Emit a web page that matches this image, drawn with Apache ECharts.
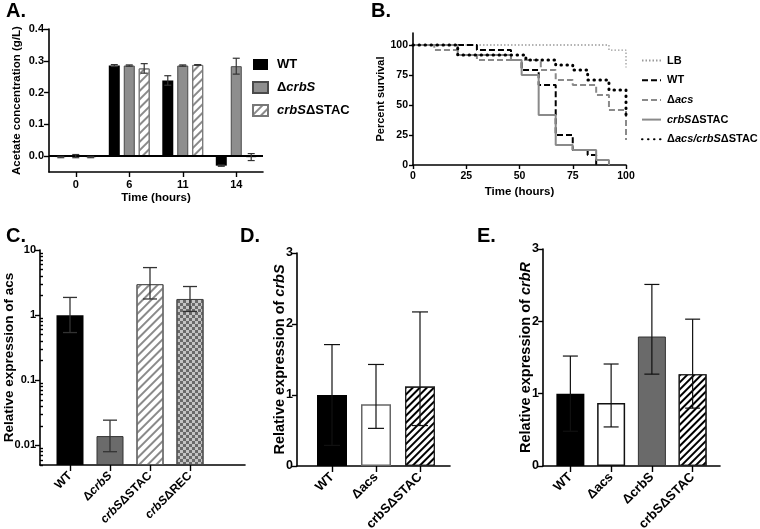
<!DOCTYPE html>
<html><head><meta charset="utf-8">
<script src="https://cdn.jsdelivr.net/npm/echarts@6/dist/echarts.min.js"></script>
<style>html,body{margin:0;padding:0;background:#fff}#c{width:760px;height:529px}</style>
</head><body><div id="c"></div>
<script>
// ---------- DATA ----------
// Panel A: acetate concentration (g/L)
const timeCats = ['0', '6', '11', '14'];
const acWT = [-0.003, 0.285, 0.238, -0.030];
const acWTerr = [0.002, 0.003, 0.015, 0.002];
const acCrbS = [0.000, 0.285, 0.285, 0.283];
const acCrbSerr = [0.005, 0.002, 0.002, 0.025];
const acStac = [-0.003, 0.276, 0.287, -0.003];
const acStacErr = [0.002, 0.015, 0.001, 0.011];
const aTicks = [0, 0.1, 0.2, 0.3, 0.4];

// Panel B: percent survival (Kaplan-Meier steps)
const lbTime = [0, 92, 100];
const lbSurv = [100, 95.8, 81.3];
const wtTime = [0, 30, 46, 51, 59, 67, 75, 82, 86];
const wtSurv = [100, 95.8, 87.5, 79.2, 66.7, 25, 12.5, 8.3, 0];
const acsTime = [0, 10, 21, 30, 60, 67, 75, 86, 92, 100];
const acsSurv = [100, 95.8, 91.7, 87.5, 79.2, 70.8, 66.7, 58.3, 45.8, 20.8];
const stacTime = [0, 21, 46, 51, 59, 67, 75, 86, 92];
const stacSurv = [100, 91.7, 87.5, 75, 41.7, 16.7, 12.5, 4.2, 0];
const dblTime = [0, 21, 53, 67, 75, 82, 92, 100];
const dblSurv = [100, 91.7, 87.5, 83.3, 79.2, 70.8, 62.5, 41.7];
const bTicks = [0, 25, 50, 75, 100];

// Panel C: relative expression of acs (log scale)
const cCats = ['WT', 'ΔcrbS', 'crbSΔSTAC', 'crbSΔREC'];
const cVals = [1.0, 0.0139, 2.99, 1.77];
const cLow = [0.54, 0.008, 1.77, 1.14];
const cHigh = [1.87, 0.0244, 5.37, 2.75];
const cTicks = [0.01, 0.1, 1, 10];
const cMinor = [0.005, 0.006, 0.007, 0.008, 0.009, 0.02, 0.03, 0.04, 0.05, 0.06, 0.07, 0.08, 0.09,
  0.2, 0.3, 0.4, 0.5, 0.6, 0.7, 0.8, 0.9, 2, 3, 4, 5, 6, 7, 8, 9];

// Panel D: relative expression of crbS
const dCats = ['WT', 'Δacs', 'crbSΔSTAC'];
const dVals = [1.0, 0.87, 1.12];
const dLow = [0.29, 0.53, 0.57];
const dHigh = [1.71, 1.43, 2.17];

// Panel E: relative expression of crbR
const eCats = ['WT', 'Δacs', 'ΔcrbS', 'crbSΔSTAC'];
const eVals = [1.0, 0.87, 1.79, 1.27];
const eLow = [0.48, 0.54, 1.27, 0.80];
const eHigh = [1.52, 1.41, 2.51, 2.03];

// ---------- STYLES ----------
const FF = 'Liberation Sans';
const T = (size, extra) => Object.assign({fontFamily: FF, fontWeight: 'bold', fontSize: size, color: '#000'}, extra || {});
const richI = size => ({i: T(size, {fontStyle: 'italic'})});
const AX = {show: true, onZero: false, lineStyle: {color: '#000', width: 1.6}};
const TK = len => ({show: true, length: len, lineStyle: {color: '#000', width: 1.4}});

const hatchGrey = {symbol: 'rect', symbolSize: 1, dashArrayX: [1, 0], dashArrayY: [1.4, 3.2], rotation: -Math.PI / 4, color: '#8a8a8a'};
const hatchBlack = {symbol: 'rect', symbolSize: 1, dashArrayX: [1, 0], dashArrayY: [2, 2.6], rotation: -Math.PI / 4, color: '#000'};
const checker = {symbol: 'rect', symbolSize: 1, dashArrayX: [[3, 3], [0, 3, 3, 0]], dashArrayY: [3, 0], rotation: 0, color: '#6a6a6a'};

const labelMap = {
  'A_WT': 'WT', 'A_crbS': 'Δ{i|crbS}', 'A_STAC': '{i|crbS}ΔSTAC',
  'B_LB': 'LB', 'B_WT': 'WT', 'B_acs': 'Δ{i|acs}', 'B_STAC': '{i|crbS}ΔSTAC', 'B_dbl': 'Δ{i|acs/crbS}ΔSTAC'
};
const catItal = {'WT': 'WT', 'ΔcrbS': 'Δ{i|crbS}', 'crbSΔSTAC': '{i|crbS}ΔSTAC', 'crbSΔREC': '{i|crbS}ΔREC'};

function errBars(offset, cap, color, width) {
  return function (params, api) {
    const x = api.value(0);
    const lo = api.coord([x, api.value(1)]);
    const hi = api.coord([x, api.value(2)]);
    const cx = lo[0] + offset;
    const st = {stroke: color, lineWidth: width};
    return {type: 'group', children: [
      {type: 'line', shape: {x1: cx, y1: hi[1], x2: cx, y2: lo[1]}, style: st},
      {type: 'line', shape: {x1: cx - cap, y1: hi[1], x2: cx + cap, y2: hi[1]}, style: st},
      {type: 'line', shape: {x1: cx - cap, y1: lo[1], x2: cx + cap, y2: lo[1]}, style: st}
    ]};
  };
}
const pairs = (t, s) => t.map((v, i) => [v, s[i]]);
const symErr = (v, e) => v.map((x, i) => [i, x - e[i], x + e[i]]);
const asymErr = (lo, hi) => lo.map((x, i) => [i, x, hi[i]]);

const aBarW = 11, aGap = 0.36;
const aStep = aBarW * (1 + aGap);
const G = (l, t, w, h) => ({left: l, top: t, width: w, height: h, containLabel: false, outerBoundsMode: 'none'});

const option = {
  animation: false,
  backgroundColor: '#fff',
  title: [
    {text: 'A.', left: 6, top: 1, padding: 0, textStyle: T(20)},
    {text: 'B.', left: 371, top: 1, padding: 0, textStyle: T(20)},
    {text: 'C.', left: 6, top: 226, padding: 0, textStyle: T(20)},
    {text: 'D.', left: 240, top: 226, padding: 0, textStyle: T(20)},
    {text: 'E.', left: 477, top: 226, padding: 0, textStyle: T(20)}
  ],
  legend: [
    {orient: 'vertical', left: 252, top: 58, itemWidth: 15, itemHeight: 11, itemGap: 10, icon: 'rect', padding: 0,
      data: ['A_WT', 'A_crbS', 'A_STAC'], formatter: n => labelMap[n], selectedMode: false,
      textStyle: Object.assign(T(13), {padding: [0, 0, 0, 4], rich: richI(13)})},
    {orient: 'vertical', left: 641, top: 55, itemWidth: 19, itemHeight: 10, itemGap: 8.7, padding: 0,
      data: ['B_LB', 'B_WT', 'B_acs', 'B_STAC', 'B_dbl'], formatter: n => labelMap[n], selectedMode: false,
      itemStyle: {opacity: 0},
      textStyle: Object.assign(T(11), {padding: [0, 0, 0, 1], rich: richI(11)})}
  ],
  grid: [
    G(49, 29, 214, 143),   // A
    G(413, 33, 213, 132),  // B
    G(40, 250, 205, 215),  // C frame
    G(50, 250, 160, 215),  // C bars
    G(297, 253, 153, 213), // D frame
    G(310, 253, 132, 213), // D bars
    G(543, 249, 177, 217), // E frame
    G(550, 249, 163, 217)  // E bars
  ],
  xAxis: [
    {gridIndex: 0, type: 'category', data: timeCats, axisLine: AX, axisTick: Object.assign(TK(5), {alignWithLabel: true}),
      axisLabel: Object.assign(T(11), {margin: 7}), name: 'Time (hours)', nameLocation: 'middle', nameGap: 20,
      nameMoveOverlap: false, nameTextStyle: T(11.5)},
    {gridIndex: 1, type: 'value', min: 0, max: 100, interval: 25, axisLine: AX, axisTick: TK(4), splitLine: {show: false},
      axisLabel: Object.assign(T(10.5), {margin: 6}), name: 'Time (hours)', nameLocation: 'middle', nameGap: 21,
      nameMoveOverlap: false, nameTextStyle: T(11.5)},
    {gridIndex: 2, type: 'value', min: 0, max: 1, axisLine: AX, axisTick: {show: false}, axisLabel: {show: false}, splitLine: {show: false}},
    {gridIndex: 3, type: 'category', data: cCats, axisLine: {show: false}, axisTick: Object.assign(TK(6), {alignWithLabel: true}),
      axisLabel: Object.assign(T(12), {rotate: 45, margin: 9, formatter: v => catItal[v], rich: richI(12)})},
    {gridIndex: 4, type: 'value', min: 0, max: 1, axisLine: AX, axisTick: {show: false}, axisLabel: {show: false}, splitLine: {show: false}},
    {gridIndex: 5, type: 'category', data: dCats, axisLine: {show: false}, axisTick: Object.assign(TK(6), {alignWithLabel: true}),
      axisLabel: Object.assign(T(13), {rotate: 45, margin: 9})},
    {gridIndex: 6, type: 'value', min: 0, max: 1, axisLine: AX, axisTick: {show: false}, axisLabel: {show: false}, splitLine: {show: false}},
    {gridIndex: 7, type: 'category', data: eCats, axisLine: {show: false}, axisTick: Object.assign(TK(6), {alignWithLabel: true}),
      axisLabel: Object.assign(T(13), {rotate: 45, margin: 9})}
  ],
  yAxis: [
    {gridIndex: 0, type: 'value', min: -0.05, max: 0.4, axisLine: AX,
      axisTick: Object.assign(TK(5), {customValues: aTicks}), splitLine: {show: false},
      axisLabel: Object.assign(T(11), {customValues: aTicks, formatter: v => v.toFixed(1), margin: 5}),
      name: 'Acetate concentration (g/L)', nameLocation: 'middle', nameGap: 26, nameMoveOverlap: false, nameTextStyle: T(11.5)},
    {gridIndex: 1, type: 'value', min: 0, max: 110, axisLine: AX,
      axisTick: Object.assign(TK(4), {customValues: bTicks}), splitLine: {show: false},
      axisLabel: Object.assign(T(10.5), {customValues: bTicks, margin: 5}),
      name: 'Percent survival', nameLocation: 'middle', nameGap: 27, nameMoveOverlap: false, nameTextStyle: T(11)},
    {gridIndex: 2, type: 'log', min: 0.005, max: 10, axisLine: AX,
      axisTick: Object.assign(TK(5), {customValues: cTicks}), splitLine: {show: false},
      axisLabel: Object.assign(T(11), {customValues: cTicks, formatter: v => String(v), margin: 4}),
      name: 'Relative expression of acs', nameLocation: 'middle', nameGap: 24, nameMoveOverlap: false, nameTextStyle: T(13.5)},
    {gridIndex: 2, type: 'log', min: 0.005, max: 10, axisLine: {show: false},
      axisTick: Object.assign(TK(3), {customValues: cMinor}), axisLabel: {show: false}, splitLine: {show: false}},
    {gridIndex: 3, type: 'log', min: 0.005, max: 10, startValue: 0.005, show: false},
    {gridIndex: 4, type: 'value', min: 0, max: 3, interval: 1, axisLine: AX, axisTick: TK(5), splitLine: {show: false},
      axisLabel: Object.assign(T(12.5), {margin: 4}),
      name: 'Relative expression of {i|crbS}', nameLocation: 'middle', nameGap: 10, nameMoveOverlap: false,
      nameTextStyle: Object.assign(T(14.5), {rich: richI(14.5)})},
    {gridIndex: 5, type: 'value', min: 0, max: 3, show: false},
    {gridIndex: 6, type: 'value', min: 0, max: 3, interval: 1, axisLine: AX, axisTick: TK(5), splitLine: {show: false},
      axisLabel: Object.assign(T(12.5), {margin: 4}),
      name: 'Relative expression of {i|crbR}', nameLocation: 'middle', nameGap: 10, nameMoveOverlap: false,
      nameTextStyle: Object.assign(T(14.5), {rich: richI(14.5)})},
    {gridIndex: 7, type: 'value', min: 0, max: 3, show: false}
  ],
  series: [
    // ----- A -----
    {name: 'A_WT', type: 'bar', xAxisIndex: 0, yAxisIndex: 0, data: acWT, barWidth: aBarW, barGap: (aGap * 100) + '%',
      itemStyle: {color: '#000'},
      markLine: {silent: true, symbol: 'none', label: {show: false}, lineStyle: {color: '#000', width: 1.8, type: 'solid'}, data: [{yAxis: 0}]}},
    {name: 'A_crbS', type: 'bar', xAxisIndex: 0, yAxisIndex: 0, data: acCrbS, barWidth: aBarW, barGap: (aGap * 100) + '%',
      itemStyle: {color: '#8e8e8e', borderColor: '#4a4a4a', borderWidth: 1}},
    {name: 'A_STAC', type: 'bar', xAxisIndex: 0, yAxisIndex: 0, data: acStac, barWidth: aBarW, barGap: (aGap * 100) + '%',
      itemStyle: {color: '#fff', decal: hatchGrey, borderColor: '#777', borderWidth: 1}},
    {type: 'custom', xAxisIndex: 0, yAxisIndex: 0, z: 5, data: symErr(acWT, acWTerr), renderItem: errBars(-aStep, 3.5, '#333', 1.2)},
    {type: 'custom', xAxisIndex: 0, yAxisIndex: 0, z: 5, data: symErr(acCrbS, acCrbSerr), renderItem: errBars(0, 3.5, '#333', 1.2)},
    {type: 'custom', xAxisIndex: 0, yAxisIndex: 0, z: 5, data: symErr(acStac, acStacErr), renderItem: errBars(aStep, 3.5, '#333', 1.2)},
    // ----- B -----
    {name: 'B_LB', type: 'line', step: 'end', xAxisIndex: 1, yAxisIndex: 1, symbol: 'none', data: pairs(lbTime, lbSurv),
      itemStyle: {color: '#9a9a9a'}, lineStyle: {color: '#9a9a9a', width: 1.3, type: [1.5, 2]}},
    {name: 'B_WT', type: 'line', step: 'end', xAxisIndex: 1, yAxisIndex: 1, symbol: 'none', data: pairs(wtTime, wtSurv),
      itemStyle: {color: '#000'}, lineStyle: {color: '#000', width: 2, type: [6, 3]}},
    {name: 'B_acs', type: 'line', step: 'end', xAxisIndex: 1, yAxisIndex: 1, symbol: 'none', data: pairs(acsTime, acsSurv),
      itemStyle: {color: '#8a8a8a'}, lineStyle: {color: '#8a8a8a', width: 2, type: [6, 3]}},
    {name: 'B_STAC', type: 'line', step: 'end', xAxisIndex: 1, yAxisIndex: 1, symbol: 'none', data: pairs(stacTime, stacSurv),
      itemStyle: {color: '#8a8a8a'}, lineStyle: {color: '#8a8a8a', width: 2}},
    {name: 'B_dbl', type: 'line', step: 'end', xAxisIndex: 1, yAxisIndex: 1, symbol: 'none', data: pairs(dblTime, dblSurv),
      itemStyle: {color: '#000'}, lineStyle: {color: '#000', width: 3, type: [0.5, 5.5], cap: 'round'}},
    // ----- C -----
    {name: 'C', type: 'bar', xAxisIndex: 3, yAxisIndex: 4, barWidth: 27,
      data: cVals.map((v, i) => ({value: v, itemStyle: [
        {color: '#000'},
        {color: '#6b6b6b', borderColor: '#333', borderWidth: 1},
        {color: '#fff', decal: hatchGrey, borderColor: '#555', borderWidth: 1},
        {color: '#c4c4c4', decal: checker, borderColor: '#444', borderWidth: 1}][i]}))},
    {type: 'custom', xAxisIndex: 3, yAxisIndex: 4, z: 5, data: asymErr(cLow, cHigh), renderItem: errBars(0, 7, '#333', 1.3)},
    // ----- D -----
    {name: 'D', type: 'bar', xAxisIndex: 5, yAxisIndex: 6, barWidth: 30,
      data: dVals.map((v, i) => ({value: v, itemStyle: [
        {color: '#000'},
        {color: '#fff', borderColor: '#666', borderWidth: 1.5},
        {color: '#fff', decal: hatchBlack, borderColor: '#222', borderWidth: 1.2}][i]}))},
    {type: 'custom', xAxisIndex: 5, yAxisIndex: 6, z: 5, data: asymErr(dLow, dHigh), renderItem: errBars(0, 8, '#111', 1.2)},
    // ----- E -----
    {name: 'E', type: 'bar', xAxisIndex: 7, yAxisIndex: 8, barWidth: 28,
      data: eVals.map((v, i) => ({value: v, itemStyle: [
        {color: '#000'},
        {color: '#fff', borderColor: '#111', borderWidth: 1.5},
        {color: '#6a6a6a', borderColor: '#333', borderWidth: 1},
        {color: '#fff', decal: hatchBlack, borderColor: '#222', borderWidth: 1.2}][i]}))},
    {type: 'custom', xAxisIndex: 7, yAxisIndex: 8, z: 5, data: asymErr(eLow, eHigh), renderItem: errBars(0, 7.5, '#111', 1.2)}
  ]
};
const chart = echarts.init(document.getElementById('c'), null, {renderer: 'canvas'});
chart.setOption(option);
</script>
</body></html>
